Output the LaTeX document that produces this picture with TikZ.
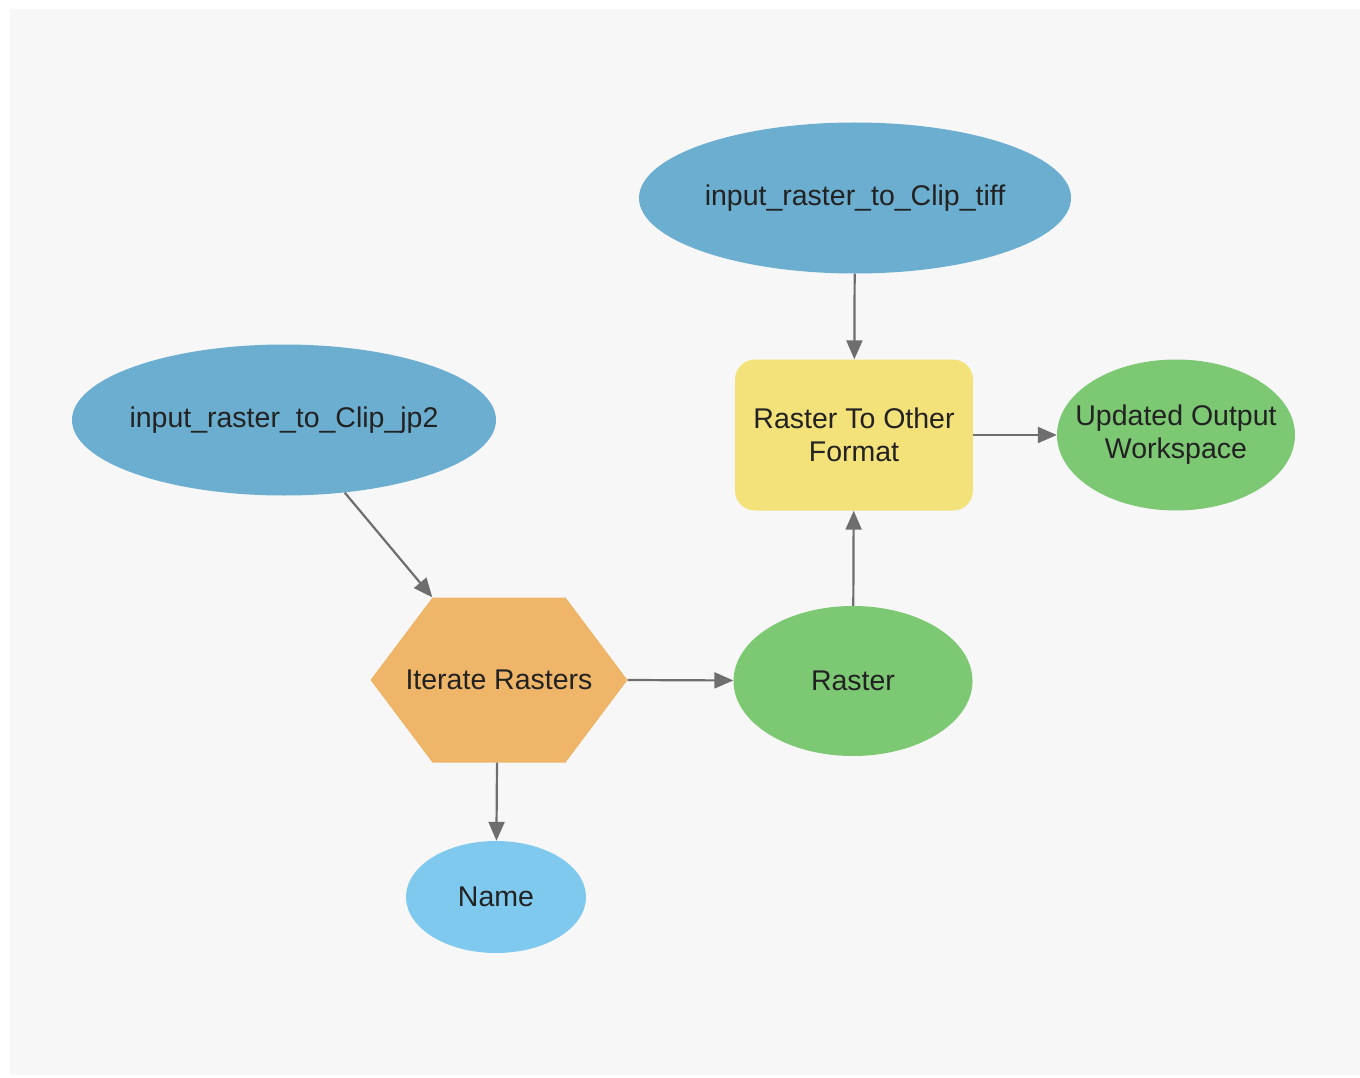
\documentclass[tikz,border=0pt]{standalone}
\usepackage{fontspec}
\setmainfont{Liberation Sans}
\usepackage{tikz}
\usetikzlibrary{shapes.geometric,arrows.meta}

\definecolor{panelgray}{HTML}{F7F7F7}
\definecolor{inblue}{HTML}{6BAED0}
\definecolor{varblue}{HTML}{7FC9EE}
\definecolor{outgreen}{HTML}{7CC873}
\definecolor{toolyellow}{HTML}{F3E17A}
\definecolor{iterorange}{HTML}{EFB66A}
\definecolor{linkgray}{HTML}{6E6E6E}
\definecolor{labeltext}{HTML}{222222}

\begin{document}
\begin{tikzpicture}[x=1pt,y=-1pt,
  every node/.style={inner sep=0pt,text=labeltext,font=\fontsize{28.5}{33}\selectfont,align=center},
  inputvar/.style={ellipse,fill=inblue,minimum height=151pt},
  outvar/.style={ellipse,fill=outgreen},
  tool/.style={rectangle,rounded corners=20pt,fill=toolyellow,minimum width=238pt,minimum height=151pt},
  iterator/.style={rectangle,minimum width=257pt,minimum height=165pt,
    path picture={\fill[iterorange] (path picture bounding box.west)
      -- ([xshift=62pt]path picture bounding box.north west)
      -- ([xshift=-62pt]path picture bounding box.north east)
      -- (path picture bounding box.east)
      -- ([xshift=-62pt]path picture bounding box.south east)
      -- ([xshift=62pt]path picture bounding box.south west) -- cycle;}},
  link/.style={draw=linkgray,line width=2.2pt,-{Triangle[length=19pt,width=16pt]}}]
\useasboundingbox (0,0) rectangle (1360,1078);
\fill[panelgray] (10,9) rectangle (1360,1075);

% model elements
\node[inputvar,minimum width=432pt] (tiff) at (855,198) {input\_raster\_to\_Clip\_tiff};
\node[inputvar,minimum width=424pt,inner xsep=-5pt] (jp2) at (284,420) {input\_raster\_to\_Clip\_jp2};
\node[tool] (rtof) at (854,435) {Raster To Other\\Format};
\node[outvar,minimum width=238pt,minimum height=151pt,inner xsep=-18pt] (uow) at (1176,435) {Updated Output\\Workspace};
\node[iterator] (iter) at (499,680) {Iterate Rasters};
\node[outvar,minimum width=239pt,minimum height=150pt] (raster) at (853,681) {Raster};
\node[ellipse,fill=varblue,minimum width=180pt,minimum height=112pt] (name) at (496,897) {Name};

% connections
\draw[link] (tiff) -- (rtof);
\draw[link] (jp2) -- ([xshift=62pt]iter.north west);
\draw[link] (iter.east) -- (raster);
\draw[link] (raster) -- (rtof);
\draw[link] (rtof) -- (uow);
\draw[link] ([xshift=-2pt]iter.south) -- (name);
\end{tikzpicture}
\end{document}
